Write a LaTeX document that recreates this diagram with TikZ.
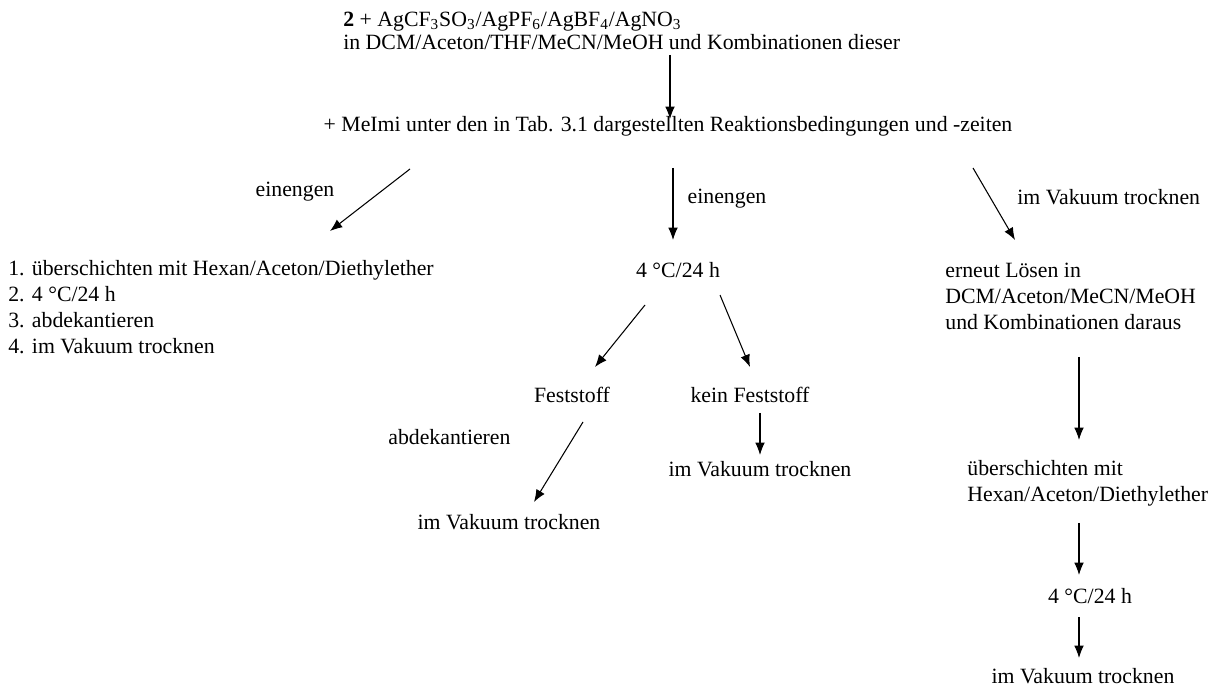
\documentclass[tikz,border=0pt]{standalone}
\usepackage{fontspec}
\setmainfont{Liberation Serif}
\usetikzlibrary{arrows.meta,calc}
\tikzset{
  txt/.style={inner sep=0pt, font=\fontsize{12.4}{14.8}\selectfont},
  blk/.style={txt, align=left, anchor=base west},
  pfeil/.style={->, line width=0.6pt}
}
\begin{document}
\begin{tikzpicture}[x=0.02cm, y=-0.02cm, line join=round, >={Latex[length=7pt,width=5.5pt]}]
			\useasboundingbox (0,0) rectangle (1213,688);
			\node[blk, font=\fontsize{12.4}{13.6}\selectfont] (oben) at (343,50)
			{\textbf{2} + AgCF\textsubscript{3}SO\textsubscript{3}/AgPF\textsubscript{6}/AgBF\textsubscript{4}/AgNO\textsubscript{3}\\
			in DCM/Aceton/THF/MeCN/MeOH und Kombinationen dieser};
			\node[txt, anchor=base] (reakt) at (668,132)
			{+ MeImi unter den in Tab. 3.1 dargestellten Reaktionsbedingungen und -zeiten};
			\node[txt, anchor=base] (ein1) at (295,197) {einengen};
			\node[txt, anchor=base] (ein2) at (727,204) {einengen};
			\node[blk] (vak1) at (1017,205) {im Vakuum trocknen};
			\node[blk] (liste) at (8,354)
			{1. überschichten mit Hexan/Aceton/Diethylether\\ 2. 4 °C/24 h\\ 3. abdekantieren\\ 4. im Vakuum trocknen};
			\node[txt, anchor=base] (kalt) at (678,278) {4 °C/24 h};
			\node[blk] (loesen) at (945,330)
			{erneut Lösen in\\ DCM/Aceton/MeCN/MeOH\\ und Kombinationen daraus};
			\node[txt, anchor=base] (fest) at (572,403) {Feststoff};
			\node[txt, anchor=base] (kein) at (750,403) {kein Feststoff};
			\node[blk] (abdek) at (388,445) {abdekantieren};
			\node[txt, anchor=base] (vak2) at (760,477) {im Vakuum trocknen};
			\node[txt, anchor=base] (vak3) at (509,530) {im Vakuum trocknen};
			\node[blk] (schicht) at (967,502)
			{überschichten mit\\ Hexan/Aceton/Diethylether};
			\node[txt, anchor=base] (kalt2) at (1090,603) {4 °C/24 h};
			\node[txt, anchor=base] (vak4) at (1083,683) {im Vakuum trocknen};
			\draw[pfeil] ($(oben.base west)+(327,5)$) -- ($(reakt.base)+(2,-13)$);
			\draw[pfeil] ($(reakt.base)+(-258,37)$) -- ($(liste.base west)+(322,-123)$);
			\draw[pfeil] ($(reakt.base)+(5,36)$) -- ($(kalt.base)+(-5,-38)$);
			\draw[pfeil] ($(reakt.base)+(305,36)$) -- ($(loesen.base west)+(70,-90)$);
			\draw[pfeil] ($(kalt.base)+(-33,27)$) -- ($(fest.base)+(23,-36)$);
			\draw[pfeil] ($(kalt.base)+(42,17)$) -- ($(kein.base)+(0,-36)$);
			\draw[pfeil] ($(fest.base)+(11,19)$) -- ($(vak3.base)+(25,-28)$);
			\draw[pfeil] ($(kein.base)+(10,10)$) -- ($(vak2.base)+(0,-22)$);
			\draw[pfeil] ($(loesen.base west)+(134,27)$) -- ($(schicht.base west)+(112,-62)$);
			\draw[pfeil] ($(schicht.base west)+(112,21)$) -- ($(kalt2.base)+(-11,-28)$);
			\draw[pfeil] ($(kalt2.base)+(-11,14)$) -- ($(vak4.base)+(-4,-25)$);
		\end{tikzpicture}
\end{document}
